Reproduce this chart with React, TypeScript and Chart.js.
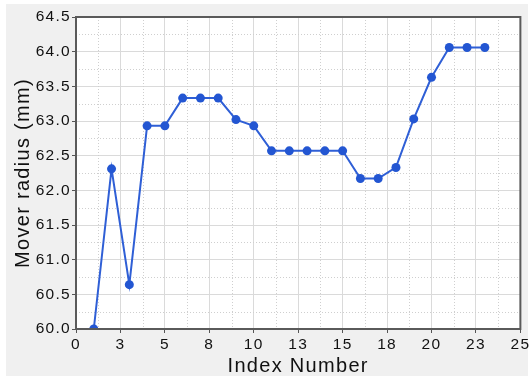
import { useEffect, useRef } from 'react';
import { Chart, registerables } from 'chart.js';

Chart.register(...registerables);

// Measured mover radius per index
const indexNumbers = [1, 2, 3, 4, 5, 6, 7, 8, 9, 10, 11, 12, 13, 14, 15, 16, 17, 18, 19, 20, 21, 22, 23];
const moverRadius = [
  60.0, 62.31, 60.64, 62.93, 62.93, 63.33, 63.33, 63.33, 63.02, 62.93, 62.57, 62.57,
  62.57, 62.57, 62.57, 62.17, 62.17, 62.33, 63.03, 63.63, 64.06, 64.06, 64.06,
];

const xTickLabels = ['0', '3', '5', '8', '10', '13', '15', '18', '20', '23', '25'];
const yTickLabels = ['60.0', '60.5', '61.0', '61.5', '62.0', '62.5', '63.0', '63.5', '64.0', '64.5'];

const FONT = "'Liberation Sans', Arial, sans-serif";

// White plot area, dotted minor grid and spaced text
const plotDecor = {
  id: 'plotDecor',
  beforeDraw(chart: any) {
    const { ctx, chartArea: a } = chart;
    ctx.letterSpacing = '1.3px';
    ctx.save();
    ctx.fillStyle = '#ffffff';
    ctx.fillRect(a.left, a.top, a.right - a.left, a.bottom - a.top);
    ctx.restore();
  },
  beforeDatasetsDraw(chart: any) {
    const { ctx, chartArea: a, scales } = chart;
    const x = scales.x;
    const y = scales.y;
    ctx.save();
    ctx.strokeStyle = '#cfcfcf';
    ctx.lineWidth = 1;
    ctx.setLineDash([1, 2]);
    ctx.beginPath();
    for (let v = 1.25; v < 25; v += 2.5) {
      const px = Math.round(x.getPixelForValue(v)) + 0.5;
      ctx.moveTo(px, a.top);
      ctx.lineTo(px, a.bottom);
    }
    for (let v = 60.25; v < 64.5; v += 0.5) {
      const py = Math.round(y.getPixelForValue(v)) + 0.5;
      ctx.moveTo(a.left, py);
      ctx.lineTo(a.right, py);
    }
    ctx.stroke();
    ctx.restore();
  },
  afterDraw(chart: any) {
    const { ctx, chartArea: a } = chart;
    ctx.save();
    ctx.strokeStyle = '#5a5a5a';
    ctx.lineWidth = 2;
    ctx.strokeRect(a.left, a.top, a.right - a.left, a.bottom - a.top);
    ctx.restore();
  },
};

export default function App() {
  const canvasRef = useRef<HTMLCanvasElement | null>(null);

  useEffect(() => {
    const canvas = canvasRef.current;
    if (!canvas) return;
    const points = indexNumbers.map((n, i) => ({ x: n, y: moverRadius[i] }));
    const chart = new Chart(canvas, {
      type: 'line',
      data: {
        datasets: [
          {
            data: points,
            borderColor: '#2f5fd6',
            borderWidth: 2,
            pointRadius: 4.5,
            pointHoverRadius: 4.5,
            pointBackgroundColor: '#2356d2',
            pointBorderWidth: 0,
            tension: 0,
          },
        ],
      },
      options: {
        animation: false,
        responsive: false,
        events: [],
        layout: { autoPadding: false, padding: { left: 0, top: 17, right: 7.5, bottom: 0 } },
        plugins: { legend: { display: false }, tooltip: { enabled: false } },
        scales: {
          x: {
            type: 'linear',
            min: 0,
            max: 25,
            afterFit: (s: any) => {
              s.height = 49;
            },
            afterBuildTicks: (s: any) => {
              s.ticks = xTickLabels.map((_, i) => ({ value: i * 2.5 }));
            },
            ticks: {
              autoSkip: false,
              maxRotation: 0,
              padding: 2,
              color: '#111',
              font: { family: FONT, size: 15.5 },
              callback: (_v: any, i: number) => xTickLabels[i],
            },
            grid: { color: '#dadada', lineWidth: 1, tickLength: 4, tickColor: '#555' },
            border: { display: false },
            title: {
              display: true,
              text: 'Index Number',
              color: '#111',
              font: { family: FONT, size: 20 },
              padding: { top: 0, bottom: 0 },
            },
          },
          y: {
            type: 'linear',
            min: 60,
            max: 64.5,
            afterFit: (s: any) => {
              s.width = 76;
            },
            afterBuildTicks: (s: any) => {
              s.ticks = yTickLabels.map((_, i) => ({ value: 60 + i * 0.5 }));
            },
            ticks: {
              autoSkip: false,
              padding: 1,
              color: '#111',
              font: { family: FONT, size: 15.5 },
              callback: (_v: any, i: number) => yTickLabels[i],
            },
            grid: { color: '#dadada', lineWidth: 1, tickLength: 4, tickColor: '#555' },
            border: { display: false },
            title: {
              display: true,
              text: 'Mover radius (mm)',
              color: '#111',
              font: { family: FONT, size: 20 },
              padding: { top: 11, bottom: 0 },
            },
          },
        },
      },
      plugins: [plotDecor],
    });
    return () => chart.destroy();
  }, []);

  return (
    <div style={{ position: 'fixed', left: 0, top: 0, width: 531, height: 378, background: '#ffffff' }}>
      <div style={{ position: 'absolute', left: 6, top: 4, width: 522, height: 372, background: '#f0f0f0' }} />
      <canvas ref={canvasRef} width={531} height={378} style={{ position: 'absolute', left: 0, top: 0 }} />
    </div>
  );
}
